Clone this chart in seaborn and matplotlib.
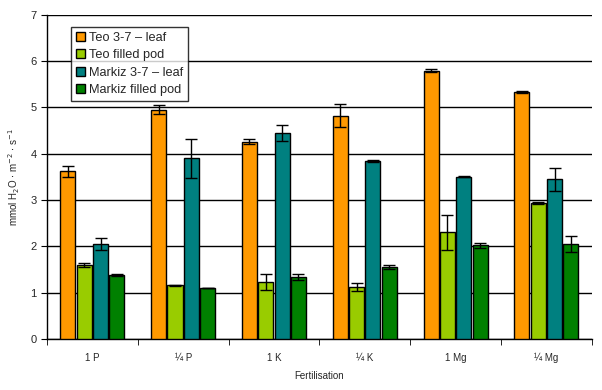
import numpy as np
import pandas as pd
import matplotlib
matplotlib.use("Agg")
import matplotlib.pyplot as plt
import seaborn as sns

groups = ["1 P", "¼ P", "1 K", "¼ K", "1 Mg", "¼ Mg"]
series = ["Teo 3-7 – leaf", "Teo filled pod", "Markiz 3-7 – leaf", "Markiz filled pod"]
teo_leaf = [3.62, 4.95, 4.26, 4.82, 5.79, 5.34]
teo_leaf_err = [0.12, 0.10, 0.05, 0.25, 0.03, 0.02]
teo_pod = [1.60, 1.16, 1.23, 1.12, 2.30, 2.93]
teo_pod_err = [0.04, 0.01, 0.17, 0.08, 0.38, 0.02]
markiz_leaf = [2.05, 3.90, 4.45, 3.84, 3.50, 3.45]
markiz_leaf_err = [0.12, 0.42, 0.17, 0.02, 0.01, 0.25]
markiz_pod = [1.38, 1.10, 1.34, 1.55, 2.02, 2.05]
markiz_pod_err = [0.03, 0.01, 0.06, 0.04, 0.05, 0.17]
colors = ["#FF9900", "#99CC00", "#008080", "#008000"]

vals = [teo_leaf, teo_pod, markiz_leaf, markiz_pod]
errs = [teo_leaf_err, teo_pod_err, markiz_leaf_err, markiz_pod_err]
rows = []
for s, v, e in zip(series, vals, errs):
    for g, vv, ee in zip(groups, v, e):
        rows.append({"Fertilisation": g, "Series": s, "value": vv, "err": ee})
df = pd.DataFrame(rows)

sns.set_style("white")
plt.rcParams["font.family"] = ["Liberation Sans", "DejaVu Sans"]

fig = plt.figure(figsize=(6.02, 3.90), dpi=100)
ax = fig.add_axes([0.078, 0.131, 0.905, 0.831])

sns.barplot(data=df, x="Fertilisation", y="value", hue="Series", order=groups,
            hue_order=series, palette=colors, saturation=1, errorbar=None,
            width=0.72, gap=0.08, edgecolor="black", linewidth=1.0, ax=ax, zorder=3)

# error bars at bar centres
for container, s in zip(ax.containers, series):
    sub = df[df["Series"] == s].set_index("Fertilisation").loc[groups]
    xs = [p.get_x() + p.get_width() / 2 for p in container.patches]
    hs = [p.get_height() for p in container.patches]
    ax.errorbar(xs, hs, yerr=sub["err"].values, fmt="none", ecolor="black",
                elinewidth=1.0, capsize=4, capthick=1.0, zorder=4)

ax.set_ylim(0, 7)
ax.set_xlim(-0.5, len(groups) - 0.5)
ax.set_yticks(range(0, 8))
ax.yaxis.grid(True, color="black", linewidth=1.0, zorder=0)
ax.set_axisbelow(True)
for sp in ["top", "right"]:
    ax.spines[sp].set_visible(False)
for sp in ["left", "bottom"]:
    ax.spines[sp].set_color("black")
    ax.spines[sp].set_linewidth(1.0)

ax.tick_params(axis="x", which="major", length=0, labelsize=7, pad=10)
ax.set_xticks(np.arange(-0.5, len(groups)), minor=True)
ax.tick_params(axis="x", which="minor", length=4, color="black", direction="out", bottom=True)
ax.tick_params(axis="y", which="major", length=4, color="black", direction="out", left=True, labelsize=8)

ax.set_xlabel("Fertilisation", fontsize=7, labelpad=6)
ax.set_ylabel(r"mmol H$_2$O $\cdot$ m$^{-2}$ $\cdot$ s$^{-1}$", fontsize=7, labelpad=6)

leg = ax.legend(loc="upper left", bbox_to_anchor=(0.033, 0.982), fontsize=9.2,
                frameon=True, fancybox=False, edgecolor="black", handlelength=0.75,
                handleheight=0.75, handletextpad=0.3, borderpad=0.35, labelspacing=0.42)
leg.get_frame().set_linewidth(1.0)
leg.set_title(None)

fig.savefig("out.png", dpi=100)
